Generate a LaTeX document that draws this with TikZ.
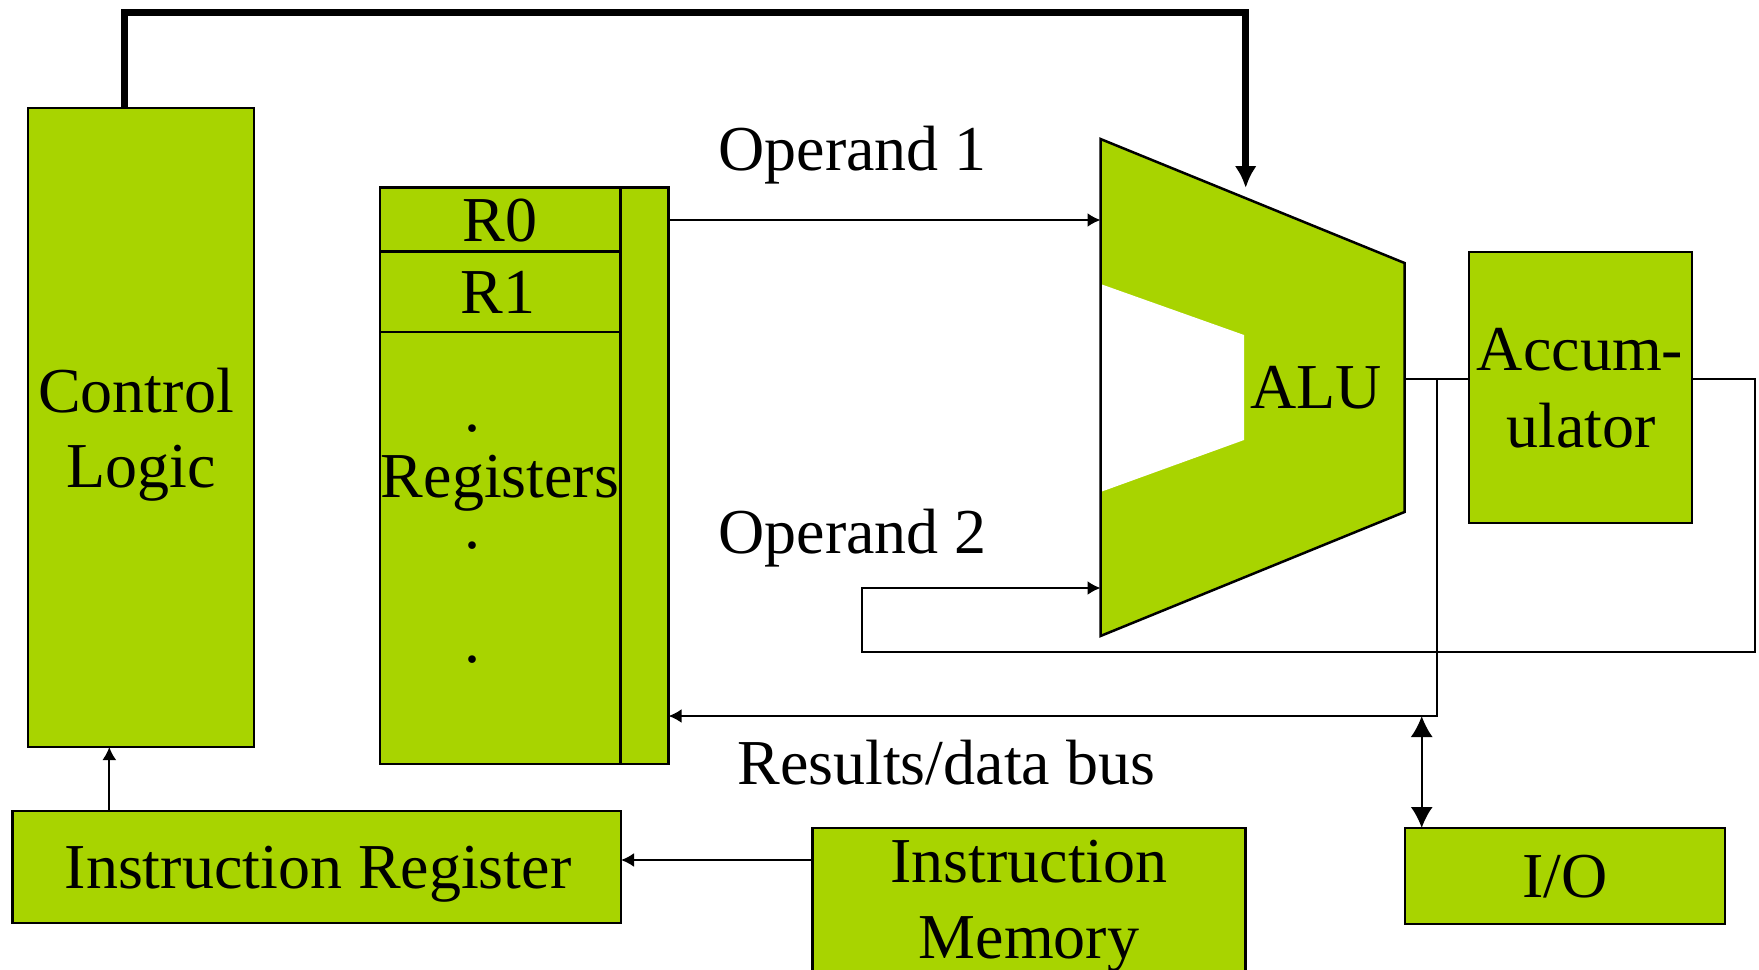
\documentclass[tikz,border=0pt]{standalone}
\usepackage{fontspec}
\setmainfont{Liberation Serif}
\usetikzlibrary{arrows.meta}
\definecolor{alugreen}{RGB}{168,212,0}
\begin{document}
\begin{tikzpicture}[x=0.5pt,y=-0.5pt,
  box/.style={draw=black, fill=alugreen, line width=1.25pt, inner sep=0pt, outer sep=0pt},
  lbl/.style={anchor=base, inner sep=0pt, font=\fontsize{32pt}{38pt}\selectfont},
  conn/.style={line width=1pt, line join=miter},
  arr/.style={conn, -{Latex[length=6.5pt,width=7pt]}},
  dbl/.style={conn, {Latex[length=10.5pt,width=11pt]}-{Latex[length=10.5pt,width=11pt]}},
  thickarr/.style={line width=3.5pt, line join=miter, -{Latex[length=11pt,width=11pt]}}
]
\path[use as bounding box, clip] (0,0) rectangle (1759,969);

% Control logic
\node[box, minimum width=113pt, minimum height=319.5pt] (ctrl) at (141,427.5) {};
\node[lbl] (ctrlA) at (136,412) {Control};
\node[lbl] (ctrlB) at (141,487) {Logic};

% Registers
\node[box, minimum width=120.25pt, minimum height=288.25pt] (regs) at (500.25,475.75) {};
\node[box, minimum width=24.05pt, minimum height=288.25pt] (regcol) at (644.55,475.75) {};
\node[box, minimum width=120.25pt, minimum height=32pt] (r0) at (500.25,219.5) {};
\node[box, minimum width=120.25pt, minimum height=40.25pt] (r1) at (500.25,291.75) {};
\node[lbl] (r0t) at (500,241.5) {R0};
\node[lbl] (r1t) at (498,313) {R1};
\node[lbl] (regt) at (500,497) {Registers};
\node[lbl] (dot1) at (472,431) {.};
\node[lbl] (dot2) at (472,548.5) {.};
\node[lbl] (dot3) at (472,662) {.};

% ALU
\coordinate (a1) at (1100.5,139);
\coordinate (a2) at (1404.5,263);
\coordinate (a3) at (1404.5,512);
\coordinate (a4) at (1100.5,636);
\fill[alugreen] (a1) -- (a2) -- (a3) -- (a4) -- cycle;
\fill[white] (1100.5,284) -- (1244,335) -- (1244,440) -- (1100.5,492) -- cycle;
\draw[line width=1.25pt, line join=miter] (a1) -- (a2) -- (a3) -- (a4) -- cycle;
\node[lbl] (alut) at (1316,408) {ALU};
\coordinate (aluin1) at (1100.5,220);
\coordinate (aluin2) at (1100.5,588);
\coordinate (aluout) at (1404.5,379);
\coordinate (alutop) at (1245.7,188);

% Accumulator
\node[box, minimum width=111.5pt, minimum height=135.5pt] (acc) at (1580.5,387.5) {};
\node[lbl] (acct1) at (1580,370) {Accum-};
\node[lbl] (acct2) at (1581,447) {ulator};

% I/O
\node[box, minimum width=160pt, minimum height=48pt] (io) at (1565,876) {};
\node[lbl] (iot) at (1565,897) {I/O};

% Instruction register
\node[box, minimum width=304.25pt, minimum height=56pt] (ir) at (316.75,867) {};
\node[lbl] (irt) at (318,888) {Instruction Register};

% Instruction memory
\node[box, minimum width=216.4pt, minimum height=91pt] (im) at (1029.1,919) {};
\node[lbl] (imt1) at (1029,882) {Instruction};
\node[lbl] (imt2) at (1029,958) {Memory};

% Labels
\node[lbl, anchor=base west] (op1) at (718,170) {Operand 1};
\node[lbl, anchor=base west] (op2) at (718,553) {Operand 2};
\node[lbl, anchor=base west] (busl) at (737,784) {Results/data bus};

% helper coordinates
\coordinate (bustap) at (1437,379);
\coordinate (buscorner) at (1437,716);
\coordinate (loopR) at (1755,651.7);
\coordinate (loopL) at (861.5,651.7);
\coordinate (irx) at (109.3,0);
\coordinate (imy) at (0,860);
\coordinate (iox) at (1421.7,0);

% Connectors
\draw[thickarr] ([xshift=-8.25pt]ctrl.north) -- ++(0,-96) -| (alutop);
\draw[arr] (regcol.east |- aluin1) -- (aluin1);
\draw[conn] (aluout) -- (acc.west |- aluout);
\draw[arr] (acc.east |- aluout) -| (loopR) -- (loopL) |- (aluin2);
\draw[arr] (bustap) -- (buscorner) -- (regcol.east |- buscorner);
\draw[dbl] (io.north -| iox) -- (buscorner -| iox);
\draw[arr] (ir.north -| irx) -- (ctrl.south -| irx);
\draw[arr] (im.west |- imy) -- (ir.east |- imy);
\end{tikzpicture}
\end{document}
